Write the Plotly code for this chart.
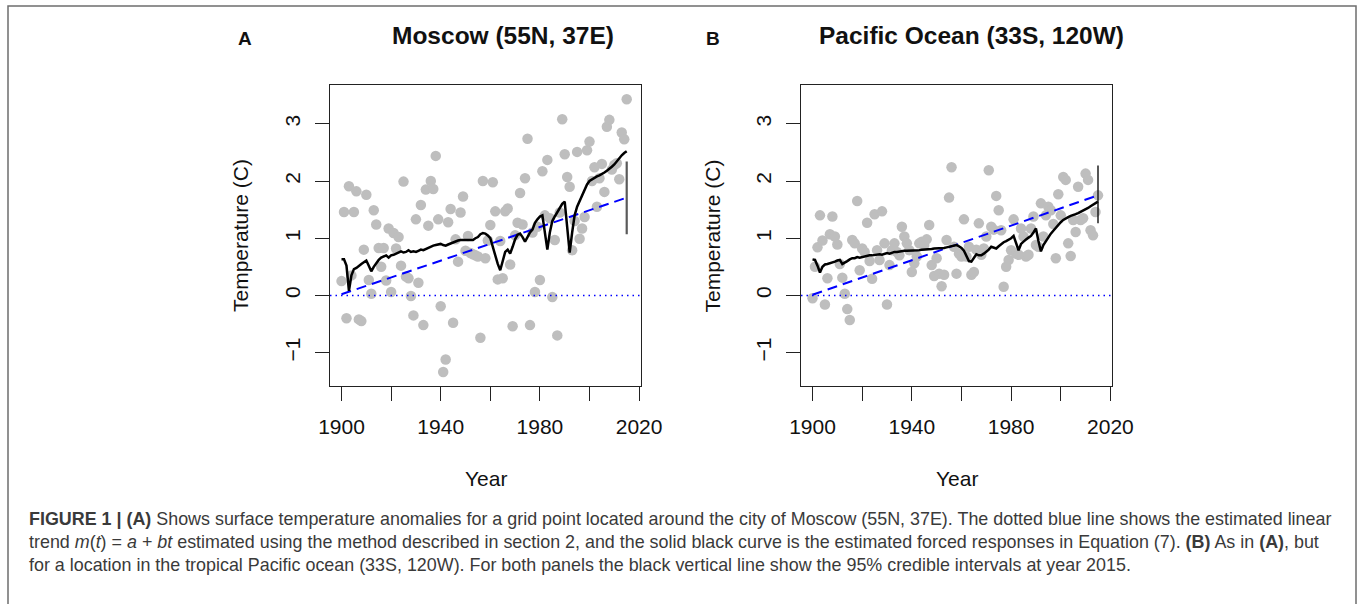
import plotly.graph_objects as go

W, H = 1362, 604

years = list(range(1900, 2016))

moscow_temp = [
    0.25, 1.46, -0.40, 1.91, 0.35, 1.46, 1.82, -0.42, -0.45, 0.80,
    1.76, 0.27, 0.03, 1.49, 1.24, 0.83, 0.50, 0.83, 0.26, 1.17,
    0.06, 1.09, 0.82, 1.02, 0.52, 1.99, 0.33, 0.30, -0.01, -0.35,
    1.33, 0.22, 1.58, -0.52, 1.85, 1.22, 2.00, 1.86, 2.44, 1.33,
    -0.19, -1.34, -1.12, 1.28, 1.51, -0.48, 0.98, 0.59, 1.45, 1.73,
    0.78, 1.04, 0.74, 0.72, 0.70, 0.68, -0.74, 2.00, 0.65, 0.96,
    1.23, 1.98, 1.47, 0.28, 0.95, 0.30, 1.47, 1.52, 0.54, -0.54,
    1.05, 1.27, 1.79, 1.24, 2.05, 2.74, -0.52, 1.10, 0.06, 1.20,
    0.27, 2.17, 1.40, 2.37, 1.35, -0.03, 0.97, -0.70, 1.45, 3.08,
    2.47, 2.07, 1.90, 0.79, 1.30, 2.51, 0.99, 1.17, 1.37, 2.54,
    2.69, 2.00, 2.24, 1.55, 2.05, 2.30, 1.81, 2.95, 3.07, 2.20,
    2.28, 2.31, 2.03, 2.85, 2.73, 3.43,
]

moscow_forced = [
    0.63, 0.63, 0.52, 0.08, 0.35, 0.46, 0.48, 0.52, 0.55, 0.58,
    0.61, 0.52, 0.42, 0.50, 0.57, 0.62, 0.66, 0.68, 0.70, 0.66,
    0.70, 0.71, 0.73, 0.74, 0.77, 0.75, 0.76, 0.79, 0.76, 0.77,
    0.76, 0.78, 0.80, 0.79, 0.81, 0.83, 0.86, 0.87, 0.88, 0.89,
    0.90, 0.88, 0.87, 0.89, 0.91, 0.93, 0.94, 0.96, 0.97, 0.97,
    0.97, 0.96, 0.96, 0.97, 1.00, 1.02, 1.07, 1.09, 1.08, 1.05,
    1.00, 0.85, 0.68, 0.55, 0.44, 0.62, 0.76, 0.80, 0.73, 0.85,
    0.98, 1.06, 1.08, 1.02, 0.94, 1.02, 1.10, 1.15, 1.27, 1.33,
    1.38, 1.40, 1.10, 0.80, 1.10, 1.30, 1.38, 1.45, 1.53, 1.60,
    1.64, 1.20, 0.75, 1.10, 1.40, 1.55, 1.65, 1.72, 1.82, 1.94,
    2.00, 2.03, 2.06, 2.08, 2.10, 2.12, 2.15, 2.18, 2.21, 2.25,
    2.29, 2.35, 2.40, 2.45, 2.49, 2.52,
]

pacific_temp = [
    -0.05, 0.50, 0.84, 1.40, 0.96, -0.16, 0.30, 1.07, 1.38, 1.03,
    0.89, 0.55, 0.31, 0.03, -0.24, -0.43, 0.97, 0.91, 1.65, 0.44,
    0.82, 0.76, 1.27, 0.60, 0.29, 1.42, 0.79, 0.62, 1.47, 0.91,
    -0.16, 0.53, 0.79, 0.91, 0.76, 0.70, 1.20, 1.03, 0.91, 0.79,
    0.41, 0.56, 0.68, 0.91, 0.94, 0.88, 0.98, 1.23, 0.53, 0.34,
    0.65, 0.38, 0.16, 0.36, 0.97, 1.71, 2.24, 0.85, 0.38, 0.73,
    0.68, 1.33, 0.68, 0.85, 0.36, 0.41, 0.80, 1.26, 0.71, 0.82,
    1.03, 2.19, 1.20, 1.15, 1.74, 1.49, 1.14, 0.15, 0.50, 0.62,
    0.79, 1.33, 0.73, 0.71, 1.17, 1.03, 0.68, 0.71, 1.17, 1.38,
    0.88, 0.85, 1.61, 1.03, 1.40, 1.55, 1.49, 1.25, 0.65, 1.77,
    1.40, 2.07, 2.02, 0.91, 0.69, 1.32, 1.11, 1.90, 1.32, 1.35,
    2.13, 2.02, 1.14, 1.05, 1.46, 1.75,
]

pacific_forced = [
    0.63, 0.62, 0.52, 0.40, 0.50, 0.54, 0.55, 0.56, 0.58, 0.59,
    0.61, 0.62, 0.55, 0.57, 0.60, 0.63, 0.65, 0.65, 0.67, 0.66,
    0.67, 0.68, 0.70, 0.70, 0.70, 0.71, 0.72, 0.72, 0.71, 0.73,
    0.74, 0.73, 0.75, 0.76, 0.76, 0.77, 0.77, 0.78, 0.78, 0.78,
    0.79, 0.79, 0.79, 0.79, 0.80, 0.80, 0.80, 0.81, 0.81, 0.82,
    0.82, 0.82, 0.83, 0.83, 0.84, 0.85, 0.87, 0.88, 0.88, 0.86,
    0.83, 0.78, 0.68, 0.60, 0.59, 0.66, 0.72, 0.70, 0.70, 0.73,
    0.76, 0.80, 0.85, 0.84, 0.82, 0.86, 0.90, 0.93, 0.95, 0.97,
    1.00, 1.04, 0.90, 0.79, 0.90, 0.95, 0.98, 1.01, 1.04, 1.10,
    1.17, 0.95, 0.77, 0.88, 0.95, 1.02, 1.08, 1.13, 1.18, 1.24,
    1.28, 1.32, 1.35, 1.37, 1.39, 1.40, 1.42, 1.44, 1.46, 1.48,
    1.50, 1.53, 1.56, 1.59, 1.62, 1.64,
]

trend_years = [1900, 2015]
moscow_trend = [0.02, 1.71]
pacific_trend = [0.01, 1.75]

ci_year = 2015
moscow_ci = [1.07, 2.34]
pacific_ci = [1.26, 2.27]

x_ticks = [1900, 1920, 1940, 1960, 1980, 2000, 2020]
x_ticklabels = ["1900", "", "1940", "", "1980", "", "2020"]
y_ticks = [-1, 0, 1, 2, 3]
y_ticklabels = ["\u22121", "0", "1", "2", "3"]

titles = ["Moscow (55N, 37E)", "Pacific Ocean (33S, 120W)"]
panel_letters = ["A", "B"]

FONT = "Liberation Sans, Arial, sans-serif"

fig = go.Figure()

panels = [
    dict(temp=moscow_temp, forced=moscow_forced, trend=moscow_trend, ci=moscow_ci,
         ci_color="#5a5a5a", ci_width=2.2, xa="x", ya="y"),
    dict(temp=pacific_temp, forced=pacific_forced, trend=pacific_trend, ci=pacific_ci,
         ci_color="#111111", ci_width=1.4, xa="x2", ya="y2"),
]

for p in panels:
    fig.add_trace(go.Scatter(x=years, y=p["temp"], mode="markers",
                             marker=dict(size=10.5, color="#bebebe", line=dict(width=0)),
                             xaxis=p["xa"], yaxis=p["ya"], showlegend=False))
    fig.add_trace(go.Scatter(x=[1895.36, 2020.64], y=[0, 0], mode="lines",
                             line=dict(color="#0000ff", width=1.5, dash="1.5px,4px"),
                             xaxis=p["xa"], yaxis=p["ya"], showlegend=False))
    fig.add_trace(go.Scatter(x=trend_years, y=p["trend"], mode="lines",
                             line=dict(color="#0000ff", width=2, dash="10px,6px"),
                             xaxis=p["xa"], yaxis=p["ya"], showlegend=False))
    fig.add_trace(go.Scatter(x=years, y=p["forced"], mode="lines",
                             line=dict(color="black", width=2.5),
                             xaxis=p["xa"], yaxis=p["ya"], showlegend=False))
    fig.add_trace(go.Scatter(x=[ci_year, ci_year], y=p["ci"], mode="lines",
                             line=dict(color=p["ci_color"], width=p["ci_width"]),
                             xaxis=p["xa"], yaxis=p["ya"], showlegend=False))

def px_x(v):
    return v / W

def px_y(v):
    return 1 - v / H

xdoms = [[px_x(330), px_x(640.7)], [px_x(801), px_x(1112)]]
ydom = [px_y(386), px_y(85)]

axis_common = dict(
    showgrid=False, zeroline=False, showline=True, mirror=True, automargin=False,
    linecolor="#222222", linewidth=1.3,
    ticks="outside", ticklen=14, tickwidth=1.1, tickcolor="#222222",
    tickfont=dict(family=FONT, size=21, color="#111111"),
)

for i, (xn, yn) in enumerate([("xaxis", "yaxis"), ("xaxis2", "yaxis2")]):
    anchor_y = "y" if i == 0 else "y2"
    anchor_x = "x" if i == 0 else "x2"
    fig.layout[xn] = dict(domain=xdoms[i], range=[1895.36, 2020.64], anchor=anchor_y,
                          tickvals=x_ticks, ticktext=x_ticklabels,
                          ticklabelstandoff=8, **axis_common)
    fig.layout[yn] = dict(domain=ydom, range=[-1.585, 3.68], anchor=anchor_x,
                          tickvals=y_ticks, ticktext=y_ticklabels, tickangle=-90,
                          ticklabelstandoff=6, **axis_common)

ann = []
title_x = [502.5, 971.5]
letter_x = [245, 713]
ylab_x = [240, 711.5]
year_x = [485.5, 956.5]
for i in range(2):
    ann.append(dict(text="<b>" + titles[i] + "</b>", x=px_x(title_x[i]), y=px_y(35),
                    xref="paper", yref="paper", showarrow=False, xanchor="center", yanchor="middle",
                    font=dict(family=FONT, size=24.5, color="#111111")))
    ann.append(dict(text="<b>" + panel_letters[i] + "</b>", x=px_x(letter_x[i]), y=px_y(39),
                    xref="paper", yref="paper", showarrow=False, xanchor="center", yanchor="middle",
                    font=dict(family=FONT, size=19, color="#111111")))
    ann.append(dict(text="Temperature (C)", x=px_x(ylab_x[i]), y=px_y(236), textangle=-90,
                    xref="paper", yref="paper", showarrow=False, xanchor="center", yanchor="middle",
                    font=dict(family=FONT, size=21, color="#111111")))
    ann.append(dict(text="Year", x=px_x(year_x[i]), y=px_y(478),
                    xref="paper", yref="paper", showarrow=False, xanchor="center", yanchor="middle",
                    font=dict(family=FONT, size=21, color="#111111")))

caption_lines = [
    "<b>FIGURE 1 | (A)</b> Shows surface temperature anomalies for a grid point located around the city of Moscow (55N, 37E). The dotted blue line shows the estimated linear",
    "trend <i>m</i>(<i>t</i>) = <i>a</i> + <i>bt</i> estimated using the method described in section 2, and the solid black curve is the estimated forced responses in Equation (7). <b>(B)</b> As in <b>(A)</b>, but",
    "for a location in the tropical Pacific ocean (33S, 120W). For both panels the black vertical line show the 95% credible intervals at year 2015.",
]
caption_y = [519, 542, 565]
for line, yy in zip(caption_lines, caption_y):
    ann.append(dict(text=line, x=px_x(27), y=px_y(yy), xref="paper", yref="paper",
                    showarrow=False, xanchor="left", yanchor="middle", align="left",
                    font=dict(family=FONT, size=17.9, color="#3a3a3a")))

fig.update_layout(
    width=W, height=H,
    margin=dict(l=0, r=0, t=0, b=0, pad=0, autoexpand=False),
    showlegend=False,
    paper_bgcolor="white", plot_bgcolor="white",
    annotations=ann,
    shapes=[dict(type="rect", xref="paper", yref="paper",
                 x0=px_x(8), x1=px_x(1356), y0=-0.05, y1=px_y(6),
                 line=dict(color="#6e6e6e", width=1.5), fillcolor="rgba(0,0,0,0)", layer="above")],
)

fig.write_html(
    "out.html",
    config={"displayModeBar": False, "responsive": False},
    post_script=(
        "document.documentElement.style.margin='0px';"
        "document.documentElement.style.overflow='hidden';"
        "document.body.style.margin='0px';"
        "document.body.style.padding='0px';"
        "document.body.style.overflow='hidden';"
    ),
)
